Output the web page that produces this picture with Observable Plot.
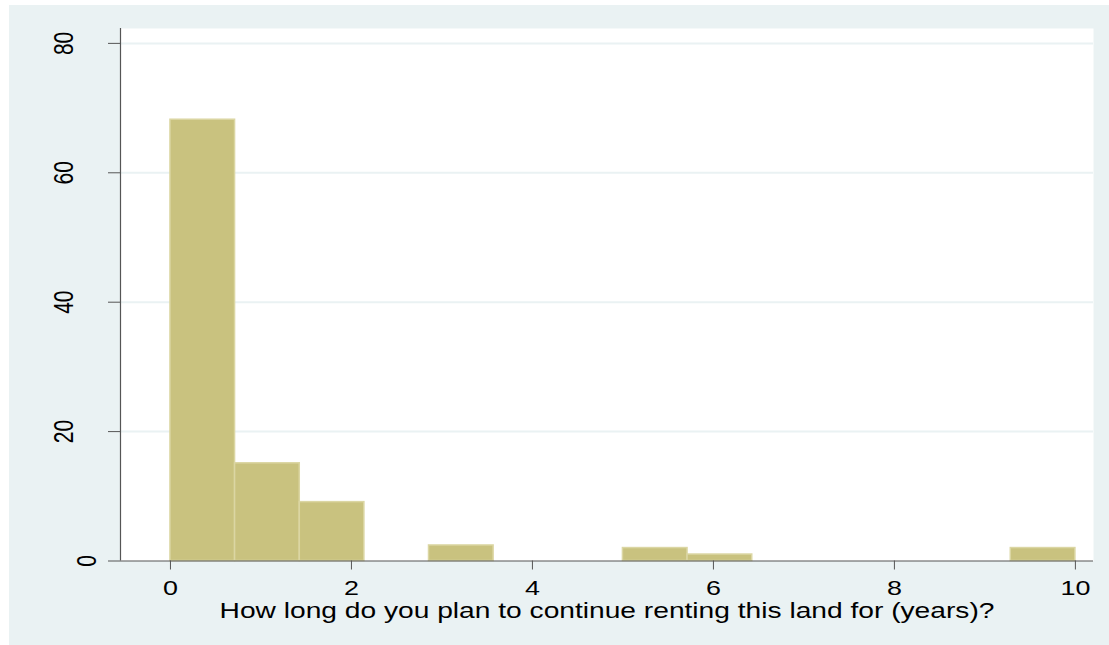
<!DOCTYPE html>
<html>
<head>
<meta charset="utf-8">
<script src="https://cdn.jsdelivr.net/npm/d3@7"></script>
<script src="https://cdn.jsdelivr.net/npm/@observablehq/plot@0.6"></script>
<style>
  html, body { margin: 0; padding: 0; background: #ffffff; }
  #bg { position: absolute; left: 9px; top: 5px; width: 1100px; height: 640px; background: #eaf2f3; }
  #chart { position: absolute; left: 0; top: 0; }
  #chart svg { background: transparent; }
</style>
</head>
<body>
<div id="bg"></div>
<div id="chart"></div>
<script>
// Histogram bins (years) and bar heights
const binStart = [0, 0.714, 1.429, 2.857, 5.0, 5.714, 9.286];
const binEnd   = [0.714, 1.429, 2.143, 3.571, 5.714, 6.429, 10.0];
const values   = [68.2, 15.1, 9.1, 2.4, 2.0, 1.0, 2.0];

const xTicks = [0, 2, 4, 6, 8, 10];
const yTicks = [20, 40, 60, 80];
const yTickZero = [0];
const xTitle = "How long do you plan to continue renting this land for (years)?";

const bars = values.map((v, i) => ({x1: binStart[i], x2: binEnd[i], y: v}));
const xDomain = [-0.552, 10.2];
const yDomain = [0, 82.3];
const stretch = 1.28;

const font = "'Liberation Sans', Arial, Helvetica, sans-serif";

const chart = Plot.plot({
  width: 1109,
  height: 645,
  marginLeft: 120,
  marginRight: 16,
  marginTop: 28,
  marginBottom: 84.5,
  style: {fontFamily: font, background: "transparent", color: "#000"},
  x: {domain: xDomain, axis: null},
  y: {domain: yDomain, axis: null},
  marks: [
    Plot.frame({fill: "white", stroke: null}),
    Plot.gridY(yTicks, {stroke: "#eaf2f3", strokeOpacity: 1, strokeWidth: 2}),
    Plot.rectY(bars, {x1: "x1", x2: "x2", y: "y", fill: "#c9c27f", stroke: "#dbd6a3", strokeWidth: 1.5}),
    Plot.ruleY([0], {stroke: "#555555", strokeWidth: 1.2}),
    Plot.ruleX([xDomain[0]], {stroke: "#555555", strokeWidth: 1.2}),
    Plot.axisX(xTicks, {tickSize: 9, tickPadding: 10, fontSize: 21, stroke: "#555555", fill: "#000", label: null}),
    Plot.axisY(yTicks, {tickSize: 12, tickFormat: () => "", stroke: "#555555", label: null}),
    Plot.axisY(yTickZero, {tickSize: 12, tickFormat: () => "", stroke: "#555555", label: null}),
    Plot.text(yTicks, {y: d => d, text: d => String(d), frameAnchor: "left", dx: -56, rotate: -90, textAnchor: "middle", lineAnchor: "middle", fontSize: 21, fill: "#000"}),
    Plot.text(yTickZero, {y: d => d, text: d => String(d), frameAnchor: "left", dx: -33, rotate: -90, textAnchor: "middle", lineAnchor: "middle", fontSize: 21, fill: "#000"}),
    Plot.text([xTitle], {text: d => d, frameAnchor: "bottom", dy: 56.5, lineAnchor: "bottom", fontSize: 22, fill: "#000"})
  ]
});
document.getElementById("chart").appendChild(chart);

// The reference renders glyphs horizontally stretched; mimic that.
chart.querySelectorAll("text").forEach(el => {
  const t = el.getAttribute("transform") || "";
  if (t.includes("rotate")) {
    el.setAttribute("transform", t + ` scale(1,${stretch})`);
    return;
  }
  const txt = el.textContent;
  if (txt === xTitle || xTicks.map(String).includes(txt)) {
    const len = el.getComputedTextLength();
    if (len > 0) {
      el.setAttribute("textLength", len * stretch);
      el.setAttribute("lengthAdjust", "spacingAndGlyphs");
    }
  }
});
</script>
</body>
</html>
